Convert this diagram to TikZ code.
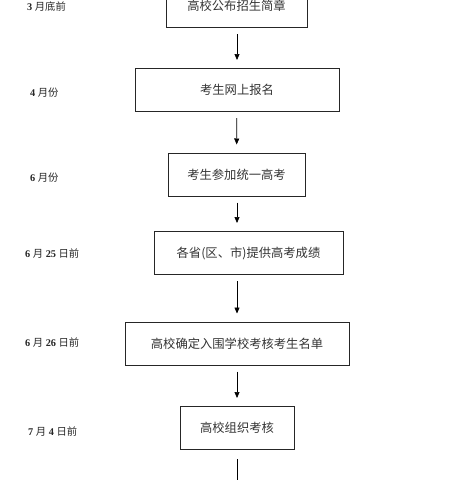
\documentclass[tikz,border=0pt]{standalone}
\usepackage{fontspec}
\setmainfont{Liberation Serif}
\newfontfamily\cjk{Noto Sans CJK SC}
\usetikzlibrary{arrows.meta}
\tikzset{
  box/.style={draw=black!85, line width=1pt, minimum height=43pt, inner sep=0pt,
    font=\cjk\fontsize{12.3}{14}\selectfont, text=black!80},
  lbl/.style={anchor=west, inner sep=0pt, font=\fontsize{10.3}{12}\selectfont, text=black!85},
  flow/.style={draw=black, line width=0.7pt, -{Triangle[length=6pt,width=5pt]}, shorten <=6pt, shorten >=8pt}
}
\begin{document}
\begin{tikzpicture}[x=1pt,y=-1pt]
\useasboundingbox (0,0) rectangle (474,480);
\clip (0,0) rectangle (474,480);
\node[box, minimum width=141pt] (b1) at (236.5,6) {高校公布招生简章};
\node[box, minimum width=204pt] (b2) at (237,90) {考生网上报名};
\node[box, minimum width=137pt] (b3) at (236.5,174.5) {考生参加统一高考};
\node[box, minimum width=189pt] (b4) at (248.5,253) {各省(区、市)提供高考成绩};
\node[box, minimum width=224pt] (b5) at (237,343.5) {高校确定入围学校考核考生名单};
\node[box, minimum width=114pt] (b6) at (237,428) {高校组织考核};
\coordinate (end) at (237,490);

\node[lbl] (l1) at (27,7) {\textbf{3} {\cjk 月底前}};
\node[lbl] (l2) at (30,93) {\textbf{4} {\cjk 月份}};
\node[lbl] (l3) at (30,178) {\textbf{6} {\cjk 月份}};
\node[lbl] (l4) at (25,254) {\textbf{6} {\cjk 月} \textbf{25} {\cjk 日前}};
\node[lbl] (l5) at (25,343) {\textbf{6} {\cjk 月} \textbf{26} {\cjk 日前}};
\node[lbl] (l6) at (28,432) {\textbf{7} {\cjk 月} \textbf{4} {\cjk 日前}};

\draw[flow] (b1.south -| 237,0) -- (b2.north -| 237,0);
\draw[flow] (b2) -- (b3);
\draw[flow] (b3.south -| 237,0) -- (b4.north -| 237,0);
\draw[flow] (b4.south -| 237,0) -- (b5.north -| 237,0);
\draw[flow] (b5) -- (b6);
\draw[line width=0.7pt, shorten <=9pt] (b6) -- (end);
\end{tikzpicture}
\end{document}
